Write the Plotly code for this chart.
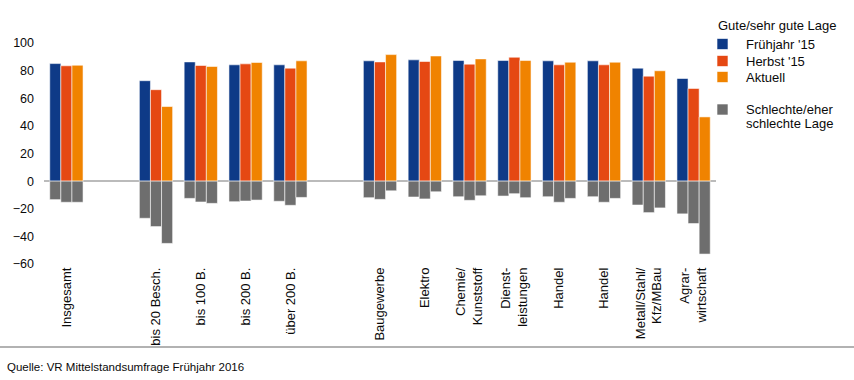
import plotly.graph_objects as go

categories = ["Insgesamt", "bis 20 Besch.", "bis 100 B.", "bis 200 B.", "über 200 B.",
              "Baugewerbe", "Elektro", "Chemie/<br>Kunststoff", "Dienst-<br>leistungen",
              "Handel", "Handel", "Metall/Stahl/<br>Kfz/MBau", "Agrar-<br>wirtschaft"]

gut_fruehjahr15 = [85.1, 72.7, 86.3, 84.2, 84.2, 87.1, 87.8, 87.3, 87.3, 87.1, 87.1, 81.8, 74.3]
gut_herbst15    = [83.5, 66.2, 83.7, 84.9, 81.8, 86.3, 86.6, 84.7, 89.7, 84.2, 84.2, 76.0, 67.1]
gut_aktuell     = [83.9, 54.0, 83.0, 85.9, 87.1, 91.6, 90.6, 88.5, 87.3, 86.1, 86.1, 79.9, 46.5]

schlecht_fruehjahr15 = [-13.4, -26.9, -12.5, -14.9, -14.6, -12.0, -11.5, -11.3, -10.8, -11.3, -11.3, -17.3, -23.7]
schlecht_herbst15    = [-15.3, -32.9, -15.1, -14.4, -17.5, -13.2, -12.9, -13.9, -9.1, -15.3, -15.3, -22.8, -30.7]
schlecht_aktuell     = [-15.3, -45.1, -16.1, -13.7, -11.8, -7.0, -7.7, -10.6, -12.0, -12.5, -12.5, -19.4, -52.8]

series_names = ["Frühjahr '15", "Herbst '15", "Aktuell"]
legend_title = "Gute/sehr gute Lage"
legend_bad_lines = ["Schlechte/eher", "schlechte Lage"]
source_text = "Quelle: VR Mittelstandsumfrage Frühjahr 2016"

y_tickvals = [100, 80, 60, 40, 20, 0, -20, -40, -60]

colors = ["#0E3A87", "#E54813", "#F08300"]
gray = "#6E6E6E"
FONT = "Liberation Sans, Arial, sans-serif"
TXT = "#0a0a0a"

# empty slot after "Insgesamt" and after "über 200 B."
positions = [i + (1 if i >= 1 else 0) + (1 if i >= 5 else 0) for i in range(len(categories))]

W, H = 854, 380
ML, MR, MT, MB = 44, 138, 43, 116
PW = W - ML - MR
PH = H - MT - MB

def px(x):
    return (x - ML) / PW

def py(y):
    return (H - MB - y) / PH

fig = go.Figure()
good = [gut_fruehjahr15, gut_herbst15, gut_aktuell]
bad = [schlecht_fruehjahr15, schlecht_herbst15, schlecht_aktuell]
for k in range(3):
    fig.add_trace(go.Bar(x=positions, y=good[k], name=series_names[k], offsetgroup=str(k),
                         marker=dict(color=colors[k], line=dict(color="rgba(255,255,255,0.55)", width=1)),
                         showlegend=False))
    fig.add_trace(go.Bar(x=positions, y=bad[k], name="Schlechte/eher schlechte Lage", offsetgroup=str(k),
                         marker=dict(color=gray, line=dict(color="rgba(255,255,255,0.55)", width=1)),
                         showlegend=False))

fig.update_layout(
    width=W, height=H,
    margin=dict(l=ML, r=MR, t=MT, b=MB),
    paper_bgcolor="white", plot_bgcolor="white",
    barmode="group", bargap=0.257, bargroupgap=0,
    font=dict(family=FONT, color=TXT),
    xaxis=dict(range=[-0.5, max(positions) + 0.5], tickmode="array", tickvals=positions,
               ticktext=categories, tickangle=-90, showgrid=False, zeroline=False,
               showline=False, ticks="", tickfont=dict(size=13, family=FONT, color=TXT)),
    yaxis=dict(range=[-60, 100], tickmode="array", tickvals=y_tickvals, showgrid=False,
               zeroline=True, zerolinecolor="#BBBBBB", zerolinewidth=1.5, showline=False,
               ticks="", ticklabelstandoff=9, tickfont=dict(size=12.5, family=FONT, color=TXT)),
    showlegend=False,
)

shapes = []
annotations = []
# legend title
annotations.append(dict(xref="paper", yref="paper", x=px(716), y=py(25), xanchor="left", yanchor="middle",
                        text=legend_title, showarrow=False, font=dict(size=13, family=FONT, color=TXT)))
centers = [44, 61, 77]
for k in range(3):
    c = centers[k]
    shapes.append(dict(type="rect", xref="paper", yref="paper", x0=px(717), x1=px(728), y0=py(c - 5.5), y1=py(c + 5.5),
                       fillcolor=colors[k], line=dict(color="rgba(255,255,255,0.6)", width=1)))
    annotations.append(dict(xref="paper", yref="paper", x=px(744), y=py(c), xanchor="left", yanchor="middle",
                            text=series_names[k], showarrow=False, font=dict(size=13, family=FONT, color=TXT)))
shapes.append(dict(type="rect", xref="paper", yref="paper", x0=px(717), x1=px(728), y0=py(104), y1=py(115),
                   fillcolor=gray, line=dict(color="rgba(255,255,255,0.6)", width=1)))
for j, line in enumerate(legend_bad_lines):
    annotations.append(dict(xref="paper", yref="paper", x=px(744), y=py(109 + 14.5 * j), xanchor="left",
                            yanchor="middle", text=line, showarrow=False,
                            font=dict(size=13, family=FONT, color=TXT)))
# bottom separator line
shapes.append(dict(type="line", xref="paper", yref="paper", x0=px(0), x1=px(W), y0=py(347), y1=py(347),
                   line=dict(color="#999999", width=1.5)))
# source note
annotations.append(dict(xref="paper", yref="paper", x=px(5), y=py(367), xanchor="left", yanchor="middle",
                        text=source_text, showarrow=False, font=dict(size=11.5, family=FONT, color=TXT)))

fig.update_layout(shapes=shapes, annotations=annotations)
fig.write_html("out.html", config={"displayModeBar": False, "staticPlot": True},
               post_script="document.body.style.margin='0';document.body.style.padding='0';"
                           "document.documentElement.style.overflow='hidden';")
